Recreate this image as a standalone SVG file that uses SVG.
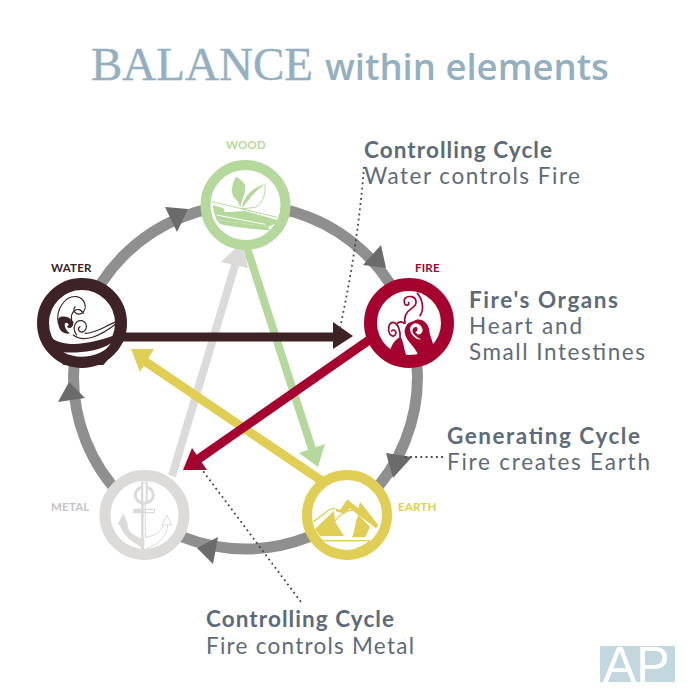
<svg xmlns="http://www.w3.org/2000/svg" width="700" height="700" viewBox="0 0 700 700">
<style>
.lb{font-family:"Lato","Noto Sans",sans-serif;font-size:11.5px;font-weight:700;letter-spacing:.2px}
.h{font-family:"Lato","Noto Sans",sans-serif;font-size:22.5px;font-weight:700;fill:#5d6b79}
.t{font-family:"Lato","Noto Sans",sans-serif;font-size:22.5px;font-weight:400;fill:#5d6b79}
.dot{fill:none;stroke:#3f464d;stroke-width:1.8;stroke-dasharray:1.8 3.4}
.ar{fill:#6b6b6b}
.ring{fill:#fff}
</style>
<rect width="700" height="700" fill="#fff"/>
<g id="title">
<text x="91" y="80" font-family="'Liberation Serif',serif" font-size="47" stroke="#94afc0" stroke-width=".4" fill="#94afc0">BALANCE</text>
<text x="325" y="80" font-family="'Open Sans','Noto Sans',sans-serif" font-size="36.5" font-weight="600" fill="#94afc0">within elements</text>
</g>
<g id="connectors">
<circle cx="245.5" cy="377" r="172" fill="none" stroke="#8f8f8f" stroke-width="11"/>
<path class="ar" d="M165 207L188 209L177 232Z"/>
<path class="ar" d="M381 245L363 265L386 268Z"/>
<path class="ar" d="M412 457L386 453L393 478Z"/>
<path class="ar" d="M218 537L197 548L213 564Z"/>
<path class="ar" d="M69 382L58 402L85 398Z"/>
<g fill="none" stroke-width="9">
<path stroke="#b5d99c" stroke-width="8" d="M247 248L312 449"/>
<path stroke="#dcdbda" stroke-width="8" d="M172 476L236 262"/>
<path stroke="#e0cf54" d="M322 481L143 360"/>
<path stroke="#a5022f" d="M372 338L197 460"/>
<path stroke="#3d2226" d="M122 337L336 337"/>
</g>
<path fill="#b5d99c" d="M318 467L299 453L325 444Z"/>
<path fill="#dcdbda" d="M243 241L221 262L248 268Z"/>
<path fill="#e0cf54" d="M131 349L154 349L140 372Z"/>
<path fill="#a5022f" d="M183 470L192 448L207 470Z"/>
<path fill="#3d2226" d="M353 336L333 322L333 349Z"/>
<path class="dot" d="M364 167Q358 245 340 328"/>
<path class="dot" d="M443 457L405 457"/>
<path class="dot" d="M197 463L301 602"/>
</g>
<g id="wood">
<circle class="ring" cx="245.5" cy="205" r="40" stroke="#b5d99c" stroke-width="10"/>
<g transform="translate(190 130) scale(.3333)">
<path fill="#b5d99c" d="M138 140C125 165 120 190 135 205C145 215 150 225 150 235C155 210 170 185 165 165C160 155 148 145 138 140Z"/>
<path fill="#b5d99c" d="M155 235C160 200 190 170 225 163C190 185 175 215 155 235Z"/>
<path fill="none" stroke="#b5d99c" stroke-width="3" d="M225 163C228 185 220 222 195 232L155 237"/>
<path fill="#b5d99c" d="M68 226L100 234L105 247L165 243L262 270L262 278L235 290L80 270L72 248Z"/>
<path fill="none" stroke="#b5d99c" stroke-width="3" d="M65 215L262 262"/>
<path fill="none" stroke="#fff" stroke-width="3" d="M80 255L225 283"/>
<path fill="#fff" d="M85 277C120 290 190 300 235 300C200 340 120 335 85 277Z"/>
<path fill="#b5d99c" d="M80 270L235 290L240 300C190 298 120 290 90 282Z"/>
</g>
</g>
<g id="water">
<circle class="ring" cx="82" cy="323" r="39" stroke="#3d2226" stroke-width="12"/>
<g transform="translate(20 255) scale(.3333)" fill="none" stroke="#3d2226" stroke-width="3.500" stroke-linecap="round">
<path fill="#3d2226" stroke="none" d="M90 245C130 280 210 270 300 235L310 260L250 330L130 330Z"/>
<path fill="#fff" stroke="none" d="M130 292C170 295 240 290 272 265C255 300 180 320 130 292Z"/>
<path d="M115 205C105 160 140 120 170 125C195 130 205 160 185 175C172 182 155 170 165 155"/>
<path fill="#3d2226" stroke="none" d="M115 190C125 180 150 185 160 200C162 215 150 225 140 215C148 212 148 205 138 203C130 205 135 225 150 235C130 240 110 225 115 190Z"/>
<path d="M170 240C155 220 165 195 185 197C200 200 205 220 190 230C178 235 170 222 180 215"/>
<path d="M160 240C190 265 240 245 290 205"/>
<path d="M195 235C230 235 250 215 290 200"/>
<path d="M155 195C150 170 175 150 190 175"/>
</g>
</g>
<g id="fire">
<circle class="ring" cx="409" cy="323" r="38.500" stroke="#a5022f" stroke-width="13"/>
<g transform="translate(340 255) scale(.3333)" fill="none" stroke="#a5022f" stroke-width="5" stroke-linecap="round">
<path fill="#a5022f" stroke="none" d="M150 285C158 262 170 250 182 245C195 270 190 290 205 310L150 310Z"/>
<path fill="#a5022f" stroke="none" d="M205 205C195 215 190 230 198 245C205 262 230 280 240 312L285 290C278 255 268 240 268 225C262 195 235 188 222 198C214 200 210 202 205 205Z"/>
<path fill="#fff" stroke="none" d="M225 205C238 205 248 215 248 228C244 240 232 242 226 232C232 228 236 224 230 216C222 214 216 222 218 232C222 240 236 252 244 252C232 258 212 240 210 224C210 214 216 207 225 205Z"/>
<path d="M195 205C190 185 200 170 218 158C232 148 232 130 215 125C198 122 188 132 195 148C200 153 208 150 206 143"/>
<path d="M232 115C250 135 252 165 240 182"/>
<path d="M180 248C182 230 175 205 160 202C145 202 142 225 150 238C156 246 165 245 168 235C168 226 160 222 155 228"/>
<path d="M172 205C178 198 188 200 192 205"/>
</g>
</g>
<g id="earth">
<circle class="ring" cx="347" cy="515" r="40" stroke="#e0cf54" stroke-width="10"/>
<g transform="translate(290 460) scale(.3333)">
<path fill="#e0cf54" d="M75 208C90 190 115 170 132 152L135 185L162 228L90 228Z"/>
<path fill="#e0cf54" d="M205 165L240 200L226 232L185 232C197 215 190 200 205 165Z"/>
<path fill="#e0cf54" d="M135 145L150 150L172 118L205 145L210 125L265 195L258 205L205 165L180 145L160 160L140 155Z"/>
<path fill="none" stroke="#e0cf54" stroke-width="4" d="M70 185L120 148L135 145M135 185C140 170 170 150 190 150"/>
<path fill="#e0cf54" d="M85 240H240L232 265H105Z"/>
<path fill="#fff" d="M100 243C140 245 190 245 235 243C205 275 130 275 100 243Z"/>
</g>
</g>
<g id="metal">
<circle class="ring" cx="144.500" cy="515" r="39.500" stroke="#dcdbda" stroke-width="11"/>
<g transform="translate(40 460) scale(.3333)">
<ellipse cx="313" cy="105" rx="27" ry="25" fill="none" stroke="#dcdbda" stroke-width="9"/>
<path fill="#dcdbda" d="M303 65H323V128H303Z"/>
<path fill="#fff" d="M310 68H317V125H310Z"/>
<path fill="#dcdbda" d="M303 125H311V268H303ZM280 146H345V160H280Z"/>
<path fill="#fff" d="M314 150H342V156H314Z"/>
<path fill="#dcdbda" d="M250 160L264 195H232Z"/>
<path fill="#dcdbda" d="M240 195C250 235 285 245 313 270V238C290 232 265 220 262 195Z"/>
<path fill="none" stroke="#dcdbda" stroke-width="3" d="M316 125V235M316 268C350 255 380 235 383 195M380 165L366 195H396ZM316 232C345 228 365 215 370 195"/>
</g>
</g>
<g id="labels">
<text class="lb" x="226" y="149" fill="#b5d99c">WOOD</text>
<text class="lb" x="51" y="272" fill="#3d2226">WATER</text>
<text class="lb" x="415" y="272" fill="#a5022f">FIRE</text>
<text class="lb" x="398" y="511" fill="#e0cf54">EARTH</text>
<text class="lb" x="51" y="511" fill="#c4c4c4">METAL</text>
</g>
<g id="notes">
<text class="h" x="364" y="158" textLength="188" lengthAdjust="spacing">Controlling Cycle</text>
<text class="t" x="364" y="184" textLength="216" lengthAdjust="spacing">Water controls Fire</text>
<text class="h" x="469" y="308" textLength="149" lengthAdjust="spacing">Fire's Organs</text>
<text class="t" x="469" y="334" textLength="113" lengthAdjust="spacing">Heart and</text>
<text class="t" x="469" y="360" textLength="176" lengthAdjust="spacing">Small Intestines</text>
<text class="h" x="447" y="444" textLength="193" lengthAdjust="spacing">Generating Cycle</text>
<text class="t" x="447" y="470" textLength="203" lengthAdjust="spacing">Fire creates Earth</text>
<text class="h" x="206" y="627" textLength="188" lengthAdjust="spacing">Controlling Cycle</text>
<text class="t" x="206" y="654" textLength="208" lengthAdjust="spacing">Fire controls Metal</text>
</g>
<g id="logo">
<rect x="600" y="646" width="75" height="36" fill="#c3d7df"/>
<text x="603" y="682" font-family="'Liberation Sans',sans-serif" font-size="50" fill="#fff">AP</text>
</g>
</svg>
